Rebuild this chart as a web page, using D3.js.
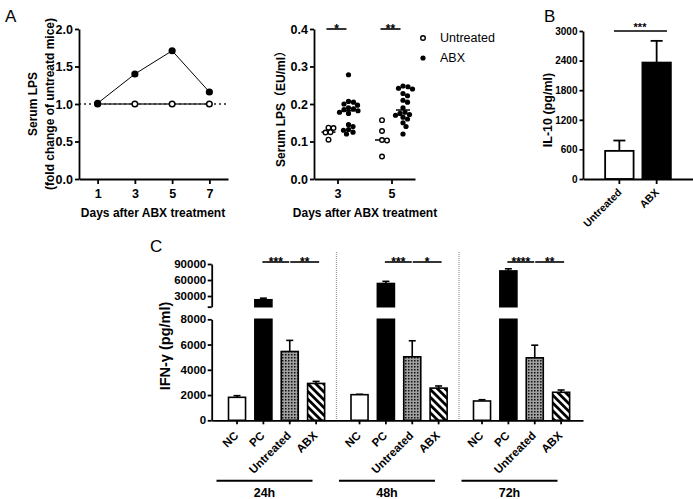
<!DOCTYPE html>
<html><head><meta charset="utf-8">
<script src="https://cdn.jsdelivr.net/npm/d3@7"></script>
<style>
body{margin:0;background:#fff}
svg{display:block}
text{font-family:Arial,"Liberation Sans","Noto Sans CJK SC",sans-serif}
</style>
</head><body>
<svg id="chart" width="693" height="499"></svg>
<script>
// ---------- DATA ----------
const lpsDays = [1, 3, 5, 7];
const lpsUntreated = [1, 1, 1, 1];
const lpsABX = [1.01, 1.40, 1.71, 1.16];

const scatterDays = ["3", "5"];
const lpsUntreatedD3 = [0.137, 0.136, 0.125, 0.124, 0.105];
const lpsABXD3 = [0.278, 0.207, 0.205, 0.200, 0.197, 0.190, 0.187, 0.185, 0.182, 0.178, 0.175, 0.145, 0.140, 0.132, 0.130, 0.125, 0.120];
const lpsUntreatedD5 = [0.157, 0.128, 0.104, 0.103, 0.060];
const lpsABXD5 = [0.248, 0.246, 0.242, 0.240, 0.228, 0.222, 0.210, 0.205, 0.190, 0.178, 0.175, 0.172, 0.170, 0.165, 0.160, 0.150, 0.140, 0.120];
const scatterSig = ["*", "**"];

const il10Groups = ["Untreated", "ABX"];
const il10Mean = [570, 2360];
const il10ErrTop = [780, 2800];
const il10Sig = "***";

const ifnTimes = ["24h", "48h", "72h"];
const ifnCats = ["NC", "PC", "Untreated", "ABX"];
const ifnMean24 = [1820, 23000, 5450, 2920];
const ifnErr24 = [1950, 26000, 6330, 3080];
const ifnMean48 = [2030, 53500, 5030, 2550];
const ifnErr48 = [2060, 57500, 6300, 2720];
const ifnMean72 = [1530, 77000, 4950, 2220];
const ifnErr72 = [1630, 81000, 5950, 2400];
const ifnSig24 = ["***", "**"];
const ifnSig48 = ["***", "*"];
const ifnSig72 = ["****", "**"];
const ifnTicksLow = [0, 2000, 4000, 6000, 8000];
const ifnTicksHigh = [10000, 30000, 60000, 90000];

// ---------- SETUP ----------
const FONT = 'Arial,"Liberation Sans","Noto Sans CJK SC",sans-serif';
const svg = d3.select("#chart");
svg.append("rect").attr("width", 693).attr("height", 499).attr("fill", "#fff");

const defs = svg.append("defs");
const pd = defs.append("pattern").attr("id", "dots").attr("patternUnits", "userSpaceOnUse")
  .attr("width", 3).attr("height", 3);
pd.append("rect").attr("width", 3).attr("height", 3).attr("fill", "#a0a0a0");
pd.append("rect").attr("width", 1.5).attr("height", 1.5).attr("fill", "#111");
const ps = defs.append("pattern").attr("id", "stripes").attr("patternUnits", "userSpaceOnUse")
  .attr("width", 5.5).attr("height", 5.5).attr("patternTransform", "rotate(-45)");
ps.append("rect").attr("width", 5.5).attr("height", 5.5).attr("fill", "#fff");
ps.append("rect").attr("width", 2.8).attr("height", 5.5).attr("fill", "#000");

const fmtInt = d3.format("d");
function styleAxis(g, fs, sw) {
  g.attr("font-family", FONT);
  g.selectAll("path,line").attr("stroke", "#000").attr("stroke-width", sw || 1.8);
  g.selectAll("text").attr("font-size", fs).attr("font-weight", "bold").attr("fill", "#000");
}
function label(x, y, t, opts) {
  opts = opts || {};
  const el = svg.append("text").attr("x", x).attr("y", y).text(t)
    .attr("font-size", opts.fs || 12).attr("font-weight", opts.fw || "bold")
    .attr("text-anchor", opts.anchor || "middle").attr("fill", "#000");
  if (opts.rot) el.attr("transform", `rotate(${opts.rot},${x},${y})`);
  if (opts.dy) el.attr("dy", opts.dy);
  return el;
}

// panel letters
label(5, 22, "A", {fs: 17, fw: "normal", anchor: "start"});
label(544, 22, "B", {fs: 17, fw: "normal", anchor: "start"});
label(150, 252, "C", {fs: 17, fw: "normal", anchor: "start"});

// ---------- PANEL A left ----------
{
  const x = d3.scaleLinear().domain([0, 8]).range([79, 228]);
  const y = d3.scaleLinear().domain([0, 2]).range([179, 29]);
  svg.append("line").attr("x1", x(0)).attr("x2", x(8)).attr("y1", y(1)).attr("y2", y(1))
    .attr("stroke", "#222").attr("stroke-width", 1.4).attr("stroke-dasharray", "2,3");
  const line = d3.line().x((d, i) => x(lpsDays[i])).y(d => y(d));
  svg.append("path").attr("d", line(lpsUntreated)).attr("fill", "none").attr("stroke", "#333").attr("stroke-width", 1.4);
  svg.append("path").attr("d", line(lpsABX)).attr("fill", "none").attr("stroke", "#000").attr("stroke-width", 1);
  svg.selectAll(".ua").data(lpsUntreated).enter().append("circle")
    .attr("cx", (d, i) => x(lpsDays[i])).attr("cy", d => y(d)).attr("r", 2.8)
    .attr("fill", "#fff").attr("stroke", "#000").attr("stroke-width", 1.5);
  svg.selectAll(".aa").data(lpsABX).enter().append("circle")
    .attr("cx", (d, i) => x(lpsDays[i])).attr("cy", d => y(d)).attr("r", 3.6).attr("fill", "#000");
  const gy = svg.append("g").attr("transform", "translate(79,0)")
    .call(d3.axisLeft(y).tickValues([0, 0.5, 1, 1.5, 2]).tickFormat(d3.format(".1f")).tickSize(4).tickSizeOuter(0).tickPadding(2));
  styleAxis(gy, 12.5);
  const gx = svg.append("g").attr("transform", "translate(0,179)")
    .call(d3.axisBottom(x).tickValues(lpsDays).tickSize(5).tickSizeOuter(0).tickPadding(5));
  styleAxis(gx, 12.5);
  label(33, 104, "Serum LPS", {rot: -90, dy: "0.35em"});
  label(50, 104, "(fold change of untreatd mice)", {rot: -90, dy: "0.35em"});
  label(153, 213, "Days after ABX treatment", {dy: "0.35em"});
}

// ---------- PANEL A right ----------
{
  const x = d3.scalePoint().domain(scatterDays).range([314, 415]).padding(0.435);
  const y = d3.scaleLinear().domain([0, 0.4]).range([179, 29]);
  const r = 2.6;
  function swarm(vals, cx) {
    const pts = vals.map(v => ({v, cy: y(v)})).sort((a, b) => b.v - a.v);
    const placed = [];
    pts.forEach(p => {
      let best = 0;
      for (let k = 0; k < 60; k++) {
        const off = (k % 2 ? 1 : -1) * Math.ceil(k / 2) * 0.5;
        const ok = placed.every(q => Math.hypot(q.cx - (cx + off), q.cy - p.cy) >= 2 * r - 0.4);
        if (ok) { best = off; break; }
      }
      p.cx = cx + best;
      placed.push(p);
    });
    return placed;
  }
  const groups = [
    {vals: lpsUntreatedD3, day: "3", off: -9, open: true},
    {vals: lpsABXD3, day: "3", off: 11, open: false},
    {vals: lpsUntreatedD5, day: "5", off: -9.5, open: true},
    {vals: lpsABXD5, day: "5", off: 11.5, open: false}
  ];
  groups.forEach(gr => {
    const cx = x(gr.day) + gr.off;
    const med = d3.median(gr.vals);
    svg.append("line").attr("x1", cx - 7).attr("x2", cx + 7).attr("y1", y(med)).attr("y2", y(med))
      .attr("stroke", "#000").attr("stroke-width", 1.5);
    const pts = swarm(gr.vals, cx);
    svg.append("g").selectAll("circle").data(pts).enter().append("circle")
      .attr("cx", d => d.cx).attr("cy", d => d.cy).attr("r", gr.open ? 2.3 : 2.6)
      .attr("fill", gr.open ? "#fff" : "#000").attr("stroke", "#000").attr("stroke-width", gr.open ? 1.4 : 0);
  });
  scatterDays.forEach((d, i) => {
    const x1 = x(d) - 11, x2 = x(d) + 9;
    svg.append("line").attr("x1", x1).attr("x2", x2).attr("y1", 29).attr("y2", 29).attr("stroke", "#000").attr("stroke-width", 1.6);
    label((x1 + x2) / 2, 33, scatterSig[i], {fs: 12});
  });
  const gy = svg.append("g").attr("transform", "translate(314,0)")
    .call(d3.axisLeft(y).tickValues([0, 0.1, 0.2, 0.3, 0.4]).tickFormat(d3.format(".1f")).tickSize(4).tickSizeOuter(0).tickPadding(2));
  styleAxis(gy, 12.5);
  const gx = svg.append("g").attr("transform", "translate(0,179)")
    .call(d3.axisBottom(x).tickSize(5).tickSizeOuter(0).tickPadding(5));
  styleAxis(gx, 12.5);
  label(281, 106, "Serum LPS（EU/ml）", {rot: -90, dy: "0.35em"});
  label(365, 213, "Days after ABX treatment", {dy: "0.35em"});
  svg.append("circle").attr("cx", 423).attr("cy", 38).attr("r", 2.3).attr("fill", "#fff").attr("stroke", "#000").attr("stroke-width", 1.4);
  svg.append("circle").attr("cx", 423).attr("cy", 58).attr("r", 2.6).attr("fill", "#000");
  label(440, 38, "Untreated", {fs: 12.5, fw: "normal", anchor: "start", dy: "0.35em"});
  label(440, 58, "ABX", {fs: 12.5, fw: "normal", anchor: "start", dy: "0.35em"});
}

// ---------- PANEL B ----------
{
  const y = d3.scaleLinear().domain([0, 3000]).range([179, 31]);
  const x = d3.scaleBand().domain(il10Groups).range([583, 693]).paddingInner(0.237).paddingOuter(0.594);
  const fills = ["#fff", "#000"];
  il10Groups.forEach((g, i) => {
    const cx = x(g) + x.bandwidth() / 2;
    svg.append("line").attr("x1", cx).attr("x2", cx).attr("y1", y(il10Mean[i])).attr("y2", y(il10ErrTop[i]))
      .attr("stroke", "#000").attr("stroke-width", 1.8);
    svg.append("line").attr("x1", cx - 6).attr("x2", cx + 6).attr("y1", y(il10ErrTop[i])).attr("y2", y(il10ErrTop[i]))
      .attr("stroke", "#000").attr("stroke-width", 1.8);
    svg.append("rect").attr("x", x(g)).attr("y", y(il10Mean[i])).attr("width", x.bandwidth())
      .attr("height", y(0) - y(il10Mean[i])).attr("fill", fills[i]).attr("stroke", "#000").attr("stroke-width", 1.8);
  });
  svg.append("line").attr("x1", 614).attr("x2", 667).attr("y1", 31).attr("y2", 31).attr("stroke", "#000").attr("stroke-width", 1.6);
  label(640, 31, il10Sig, {fs: 11});
  const gy = svg.append("g").attr("transform", "translate(583,0)")
    .call(d3.axisLeft(y).tickValues([0, 600, 1200, 1800, 2400, 3000]).tickFormat(fmtInt).tickSize(3.5).tickSizeOuter(0).tickPadding(2));
  styleAxis(gy, 10);
  const gx = svg.append("g").attr("transform", "translate(0,179)")
    .call(d3.axisBottom(x).tickSize(5).tickSizeOuter(0));
  styleAxis(gx, 10.5);
  gx.selectAll("text").attr("text-anchor", "end").attr("dy", null)
    .attr("transform", "translate(3,14) rotate(-45)").attr("y", 0).attr("x", 0);
  label(548, 110, "IL-10 (pg/ml)", {rot: -90, dy: "0.35em", fs: 12.5});
}

// ---------- PANEL C ----------
{
  const yLow = d3.scaleLinear().domain([0, 8000]).range([420.3, 319.3]);
  const yHigh = d3.scaleLinear().domain([10000, 90000]).range([306.7, 264]);
  const yv = v => v <= 8000 ? yLow(v) : yHigh(v);
  const outer = d3.scaleBand().domain(ifnTimes).range([214, 581.5]);
  const inner = d3.scaleBand().domain(ifnCats).range([0, outer.bandwidth()])
    .paddingInner(0.3536).paddingOuter(0.5).align(0.55);
  const means = [ifnMean24, ifnMean48, ifnMean72];
  const errs = [ifnErr24, ifnErr48, ifnErr72];
  const sigs = [ifnSig24, ifnSig48, ifnSig72];
  const fills = ["#fff", "#000", "url(#dots)", "url(#stripes)"];
  const bw = inner.bandwidth();

  ifnTimes.slice(1).forEach(t => {
    svg.append("line").attr("x1", outer(t)).attr("x2", outer(t)).attr("y1", 252).attr("y2", 420)
      .attr("stroke", "#999").attr("stroke-width", 1.3).attr("stroke-dasharray", "1,1");
  });

  ifnTimes.forEach((t, gi) => {
    const g0 = outer(t);
    ifnCats.forEach((c, ci) => {
      const v = means[gi][ci], e = errs[gi][ci];
      const bx = g0 + inner(c), cx = bx + bw / 2;
      svg.append("line").attr("x1", cx).attr("x2", cx).attr("y1", yv(v)).attr("y2", yv(e))
        .attr("stroke", "#000").attr("stroke-width", 1.6);
      svg.append("line").attr("x1", cx - 3.5).attr("x2", cx + 3.5).attr("y1", yv(e)).attr("y2", yv(e))
        .attr("stroke", "#000").attr("stroke-width", 1.6);
      const lowTop = yLow(Math.min(v, 8000));
      svg.append("rect").attr("x", bx).attr("y", lowTop).attr("width", bw).attr("height", yLow(0) - lowTop)
        .attr("fill", fills[ci]).attr("stroke", "#000").attr("stroke-width", 1.6);
      if (v > 10000) {
        svg.append("rect").attr("x", bx).attr("y", yHigh(v)).attr("width", bw).attr("height", yHigh(10000) - yHigh(v))
          .attr("fill", fills[ci]).attr("stroke", "#000").attr("stroke-width", 1.6);
      }
    });
    const cPC = g0 + inner("PC") + bw / 2, cU = g0 + inner("Untreated") + bw / 2, cA = g0 + inner("ABX") + bw / 2;
    [[cPC - 1, cU - 0.5], [cU + 0.5, cA + 3]].forEach((seg, si) => {
      svg.append("line").attr("x1", seg[0]).attr("x2", seg[1]).attr("y1", 262).attr("y2", 262)
        .attr("stroke", "#000").attr("stroke-width", 1.6);
      label((seg[0] + seg[1]) / 2, 265.5, sigs[gi][si], {fs: 12});
    });
    const gx = svg.append("g").attr("transform", `translate(${g0},420.3)`)
      .call(d3.axisBottom(inner).tickSize(4).tickSizeOuter(0));
    gx.select(".domain").remove();
    styleAxis(gx, 11.5);
    gx.selectAll("text").attr("text-anchor", "end").attr("dy", null).attr("y", 0).attr("x", 0)
      .attr("transform", "translate(2,16) rotate(-45)");
    svg.append("line").attr("x1", g0 + 2.5).attr("x2", g0 + 98.5).attr("y1", 480.7).attr("y2", 480.7)
      .attr("stroke", "#000").attr("stroke-width", 2);
    label(g0 + 50.5, 493, t, {fs: 12.5, dy: "0.35em"});
  });

  const base = svg.append("g").attr("transform", "translate(0,420.3)")
    .call(d3.axisBottom(d3.scaleLinear().range([211.7, 583])).tickValues([]).tickSizeOuter(0));
  styleAxis(base, 11);
  const gyl = svg.append("g").attr("transform", "translate(211.7,0)")
    .call(d3.axisLeft(yLow).tickValues(ifnTicksLow).tickFormat(fmtInt).tickSize(4).tickSizeOuter(0).tickPadding(1.5));
  styleAxis(gyl, 11.5);
  const gyh = svg.append("g").attr("transform", "translate(211.7,0)")
    .call(d3.axisLeft(yHigh).tickValues(ifnTicksHigh).tickFormat(d => d === 10000 ? "" : fmtInt(d)).tickSize(4).tickSizeOuter(0).tickPadding(1.5));
  styleAxis(gyh, 11.5);
  label(165, 346, "IFN-γ (pg/ml)", {rot: -90, dy: "0.35em", fs: 14.5});
}
</script>
</body></html>
